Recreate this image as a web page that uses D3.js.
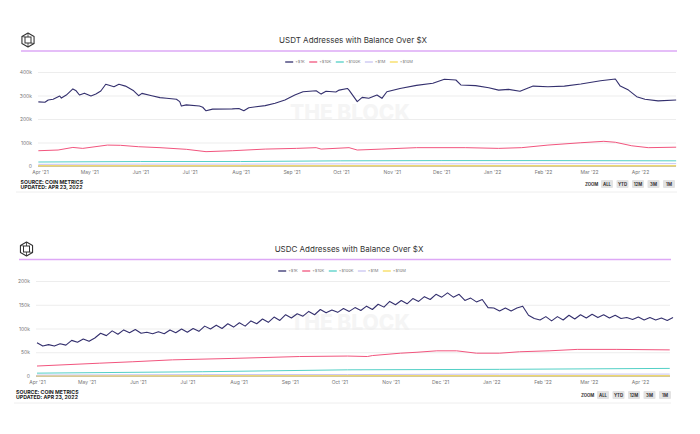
<!DOCTYPE html>
<html>
<head>
<meta charset="utf-8">
<script src="https://cdn.jsdelivr.net/npm/d3@7"></script>
<style>
  body { margin: 0; background: #fff; }
  text { font-family: Inter, "Noto Sans", sans-serif; }
</style>
</head>
<body>
<svg id="chart" width="700" height="434"></svg>
<script>
// legend / series
var seriesNames = ["+$1K", "+$10K", "+$100K", "+$1M", "+$10M"];
var seriesColors = ["#34306e", "#f2557e", "#52d0c6", "#c9c4f2", "#f7dc5a"];
var monthTicks = ["2021-04-01", "2021-05-01", "2021-06-01", "2021-07-01", "2021-08-01", "2021-09-01",
  "2021-10-01", "2021-11-01", "2021-12-01", "2022-01-01", "2022-02-01", "2022-03-01", "2022-04-01"];
var zoomButtons = ["ALL", "YTD", "12M", "3M", "1M"];

// USDT (values in thousands of addresses)
var usdtTicks = [0, 100, 200, 300, 400];
var usdt1kDates = ["2021-03-31", "2021-04-04", "2021-04-06", "2021-04-09", "2021-04-13", "2021-04-14", "2021-04-17",
  "2021-04-21", "2021-04-23", "2021-04-25", "2021-04-28", "2021-05-02", "2021-05-05", "2021-05-08", "2021-05-11",
  "2021-05-16", "2021-05-19", "2021-05-23", "2021-05-28", "2021-05-31", "2021-06-02", "2021-06-08", "2021-06-13",
  "2021-06-17", "2021-06-23", "2021-06-25", "2021-06-26", "2021-06-29", "2021-07-07", "2021-07-09", "2021-07-11",
  "2021-07-15", "2021-07-27", "2021-07-31", "2021-08-03", "2021-08-06", "2021-08-16", "2021-08-22", "2021-08-28",
  "2021-09-03", "2021-09-08", "2021-09-16", "2021-09-19", "2021-09-22", "2021-09-28", "2021-09-30", "2021-10-05",
  "2021-10-06", "2021-10-11", "2021-10-14", "2021-10-18", "2021-10-23", "2021-10-26", "2021-10-29", "2021-11-06",
  "2021-11-16", "2021-11-26", "2021-12-03", "2021-12-10", "2021-12-13", "2021-12-22", "2021-12-30", "2022-01-05",
  "2022-01-11", "2022-01-18", "2022-01-26", "2022-02-04", "2022-02-14", "2022-02-24", "2022-03-08", "2022-03-17",
  "2022-03-20", "2022-03-25", "2022-03-30", "2022-04-04", "2022-04-12", "2022-04-23"];
var usdt1kValues = [273, 271, 281, 284, 298, 289, 302,
  328, 320, 302, 310, 298, 306, 319, 348,
  337, 348, 340, 320, 299, 309, 299, 291,
  288, 284, 274, 255, 260, 255, 250, 235,
  242, 243, 245, 235, 248, 257, 267, 281,
  302, 316, 320, 306, 318, 315, 323, 330,
  323, 274, 292, 288, 302, 288, 316, 330,
  343, 352, 369, 366, 345, 342, 333, 323,
  326, 318, 340, 337, 340, 349, 363, 370,
  340, 323, 295, 284, 277, 281];
var usdt10kDates = ["2021-03-31", "2021-04-12", "2021-04-21", "2021-04-27", "2021-05-12", "2021-05-20", "2021-05-31",
  "2021-06-13", "2021-06-29", "2021-07-11", "2021-07-27", "2021-08-16", "2021-09-04", "2021-09-16", "2021-09-19",
  "2021-10-06", "2021-10-11", "2021-10-26", "2021-11-16", "2021-12-16", "2022-01-05", "2022-01-19", "2022-02-04",
  "2022-02-24", "2022-03-10", "2022-03-17", "2022-03-27", "2022-04-06", "2022-04-23"];
var usdt10kValues = [65, 68, 79, 75, 89, 88, 82,
  78, 71, 61, 65, 72, 75, 78, 72,
  78, 68, 72, 78, 78, 75, 78, 89,
  99, 105, 101, 86, 78, 80];
var usdtSmallDates = ["2021-03-31", "2021-06-01", "2021-08-01", "2021-10-01", "2021-12-01", "2022-02-01", "2022-04-23"];
var usdt100kValues = [17, 19, 19, 22, 23, 23, 22];
var usdt1mValues = [7, 8, 8, 9, 9, 10, 10];
var usdt10mValues = [1, 1, 1, 1, 1, 1, 1];

// USDC (values in thousands of addresses)
var usdcTicks = [0, 50, 100, 150, 200];
var usdc1kStart = "2021-04-01";
var usdc1kStepHours = 84; // one reading every 3.5 days
var usdc1kValues = [70, 63, 66, 63, 68, 65, 75, 71, 78, 73, 80, 90, 85, 95, 88, 97, 91, 98, 90, 92,
  89, 93, 89, 97, 91, 99, 92, 100, 94, 105, 99, 107, 100, 110, 103, 112, 105, 116, 110, 120,
  113, 124, 117, 129, 122, 131, 126, 136, 129, 140, 133, 139, 134, 142, 136, 144, 138, 147, 140, 151,
  145, 157, 150, 159, 152, 163, 157, 167, 161, 172, 166, 175, 166, 172, 159, 164, 156, 161, 144, 143,
  137, 143, 137, 143, 147, 128, 121, 118, 125, 116, 125, 118, 128, 120, 129, 122, 130, 123, 129, 122,
  128, 121, 123, 119, 124, 118, 123, 118, 122, 117, 123];
var usdc10kDates = ["2021-04-01", "2021-05-09", "2021-05-29", "2021-06-22", "2021-07-28", "2021-09-07", "2021-10-06",
  "2021-10-18", "2021-10-21", "2021-11-07", "2021-11-17", "2021-11-29", "2021-12-11", "2021-12-23", "2022-01-06",
  "2022-01-18", "2022-02-05", "2022-02-22", "2022-03-18", "2022-04-19"];
var usdc10kValues = [21, 27, 30, 34, 37, 41, 42,
  41, 43, 48, 50, 53, 53, 48, 48,
  51, 53, 56, 56, 55];
var usdcSmallDates = ["2021-04-01", "2021-07-10", "2021-10-06", "2022-01-06", "2022-04-19"];
var usdc100kValues = [6, 9, 13, 14, 16];
var usdc1mValues = [2, 3, 3, 4, 4];
var usdc10mValues = [0.5, 0.5, 0.5, 0.5, 0.5];

var parseDate = d3.timeParse("%Y-%m-%d");
var svg = d3.select("#chart");

function zip(dates, values) {
  return values.map(function(v, i) { return {date: parseDate(dates[i]), value: v}; });
}

var usdc1kDates = usdc1kValues.map(function(v, i) {
  return d3.timeHour.offset(parseDate(usdc1kStart), i * usdc1kStepHours);
});

var usdtSeries = [
  zip(usdt1kDates, usdt1kValues),
  zip(usdt10kDates, usdt10kValues),
  zip(usdtSmallDates, usdt100kValues),
  zip(usdtSmallDates, usdt1mValues),
  zip(usdtSmallDates, usdt10mValues)
];
var usdcSeries = [
  usdc1kValues.map(function(v, i) { return {date: usdc1kDates[i], value: v}; }),
  zip(usdc10kDates, usdc10kValues),
  zip(usdcSmallDates, usdc100kValues),
  zip(usdcSmallDates, usdc1mValues),
  zip(usdcSmallDates, usdc10mValues)
];

function logo(g, cx, cy) {
  var r = 7;
  var hex = d3.range(6).map(function(i) {
    var a = Math.PI / 3 * i - Math.PI / 2;
    return [cx + r * Math.cos(a), cy + r * Math.sin(a)];
  });
  g.append("path")
    .attr("d", "M" + hex.join("L") + "Z")
    .attr("fill", "none").attr("stroke", "#333").attr("stroke-width", 1.1)
    .attr("stroke-linejoin", "round");
  g.append("rect")
    .attr("x", cx - 3).attr("y", cy - 3).attr("width", 6).attr("height", 6)
    .attr("fill", "none").attr("stroke", "#333").attr("stroke-width", 1);
  [0, 2, 3, 5].forEach(function(i) {
    var p = hex[i];
    g.append("line")
      .attr("x1", p[0]).attr("y1", p[1])
      .attr("x2", cx + (p[0] > cx ? 3 : p[0] < cx ? -3 : 0)).attr("y2", cy + (p[1] > cy ? 3 : -3))
      .attr("stroke", "#333").attr("stroke-width", 0.8);
  });
}

function draw_chart(c) {
  var g = svg.append("g");

  logo(g, c.logoX, c.titleY);

  g.append("text")
    .attr("x", c.titleX).attr("y", c.titleY + 3)
    .attr("text-anchor", "middle")
    .style("font-size", "8px").style("font-weight", 400).attr("fill", "#333")
    .text(c.title);

  g.append("line")
    .attr("x1", c.ruleLeft).attr("x2", c.ruleRight)
    .attr("y1", c.ruleY).attr("y2", c.ruleY)
    .attr("stroke", "#dda8f6").attr("stroke-width", 1.5);

  // legend
  var legend = g.append("g");
  var lx = 0;
  seriesNames.forEach(function(name, i) {
    legend.append("line")
      .attr("x1", lx).attr("x2", lx + 8).attr("y1", 0).attr("y2", 0)
      .attr("stroke", seriesColors[i]).attr("stroke-width", 1.3);
    var t = legend.append("text")
      .attr("x", lx + 10).attr("y", 1.4)
      .style("font-size", "4px").attr("fill", "#777")
      .text(name);
    lx += 10 + t.node().getComputedTextLength() + 4.5;
  });
  legend.attr("transform", "translate(" + (c.legendX - (lx - 4.5) / 2) + "," + c.legendY + ")");

  var x = d3.scaleTime()
    .domain([parseDate("2021-04-01"), parseDate("2022-04-01")])
    .range([c.xApr21, c.xApr22]);
  var y = d3.scaleLinear().domain(c.yDomain).range([c.plotBottom, c.plotTop]);

  // watermark
  g.append("text")
    .attr("x", 350).attr("y", c.markY)
    .attr("text-anchor", "middle")
    .style("font-size", "21px").style("font-weight", 800).attr("fill", "#f5f5f5")
    .text("THE BLOCK");

  // y axis with grid
  var yAxis = g.append("g")
    .attr("transform", "translate(" + c.plotLeft + ",0)")
    .call(d3.axisLeft(y).tickValues(c.yTicks)
      .tickSize(-(c.plotRight - c.plotLeft)).tickPadding(6)
      .tickFormat(function(d) { return d === 0 ? "0" : d + "k"; }));
  yAxis.select(".domain").remove();
  yAxis.selectAll(".tick line").attr("stroke", "#ededed");
  yAxis.selectAll(".tick text").style("font-size", "5px").attr("fill", "#777")
    .style("font-family", "Inter, sans-serif");

  // x axis
  var xAxis = g.append("g")
    .attr("transform", "translate(0," + c.plotBottom + ")")
    .call(d3.axisBottom(x).tickValues(monthTicks.map(parseDate))
      .tickSize(0).tickPadding(4).tickFormat(d3.timeFormat("%b '%y")));
  xAxis.select(".domain").remove();
  xAxis.selectAll(".tick text").style("font-size", "5px").attr("fill", "#777")
    .style("font-family", "Inter, sans-serif");

  g.append("line")
    .attr("x1", c.plotLeft).attr("x2", c.plotRight)
    .attr("y1", c.plotBottom).attr("y2", c.plotBottom)
    .attr("stroke", "#a89a6c").attr("stroke-width", 1);

  var valueline = d3.line()
    .x(function(d) { return x(d.date); })
    .y(function(d) { return y(d.value); });

  // draw small series first so the big one sits on top
  for (var i = c.series.length - 1; i >= 0; i--) {
    g.append("path")
      .datum(c.series[i])
      .attr("d", valueline)
      .attr("fill", "none")
      .attr("stroke", seriesColors[i])
      .attr("stroke-width", i === 0 ? 1.1 : 1)
      .attr("stroke-linejoin", "round");
  }

  // source
  g.append("text")
    .attr("x", c.sourceX).attr("y", c.sourceY)
    .style("font-size", "5.2px").style("font-weight", 700).attr("fill", "#222")
    .text("SOURCE: COIN METRICS");
  g.append("text")
    .attr("x", c.sourceX).attr("y", c.sourceY + 5.4)
    .style("font-size", "5.2px").style("font-weight", 700).attr("fill", "#222")
    .text("UPDATED: APR 23, 2022");

  // zoom buttons
  g.append("text")
    .attr("x", c.zoomX).attr("y", c.zoomY + 1.6)
    .style("font-size", "4.3px").style("font-weight", 700).attr("fill", "#333")
    .text("ZOOM");
  zoomButtons.forEach(function(b, i) {
    var bx = c.zoomX + 16 + i * 15.5;
    g.append("rect")
      .attr("x", bx).attr("y", c.zoomY - 4).attr("width", 12).attr("height", 8)
      .attr("rx", 1).attr("fill", "#e3e3e3");
    g.append("text")
      .attr("x", bx + 6).attr("y", c.zoomY + 1.6)
      .attr("text-anchor", "middle")
      .style("font-size", "4.3px").style("font-weight", 700).attr("fill", "#333")
      .text(b);
  });

  g.append("line")
    .attr("x1", c.ruleLeft - 5).attr("x2", c.ruleRight)
    .attr("y1", c.sepY).attr("y2", c.sepY)
    .attr("stroke", "#eeeeee").attr("stroke-width", 1);
}

draw_chart({
  title: "USDT Addresses with Balance Over $X",
  series: usdtSeries, yDomain: [0, 400], yTicks: usdtTicks,
  logoX: 28, titleX: 353, titleY: 40, ruleY: 51, ruleLeft: 21, ruleRight: 677,
  legendX: 349, legendY: 62,
  plotLeft: 38, plotRight: 676, plotTop: 72, plotBottom: 166,
  xApr21: 40, xApr22: 640, markY: 120,
  sourceX: 20.5, sourceY: 183.5, zoomX: 585, zoomY: 184, sepY: 192
});

draw_chart({
  title: "USDC Addresses with Balance Over $X",
  series: usdcSeries, yDomain: [0, 200], yTicks: usdcTicks,
  logoX: 26.5, titleX: 349, titleY: 249, ruleY: 259.5, ruleLeft: 19, ruleRight: 671,
  legendX: 342, legendY: 271,
  plotLeft: 36, plotRight: 670, plotTop: 281, plotBottom: 376,
  xApr21: 37, xApr22: 640, markY: 330,
  sourceX: 16, sourceY: 393.5, zoomX: 581, zoomY: 395, sepY: 403
});
</script>
</body>
</html>
